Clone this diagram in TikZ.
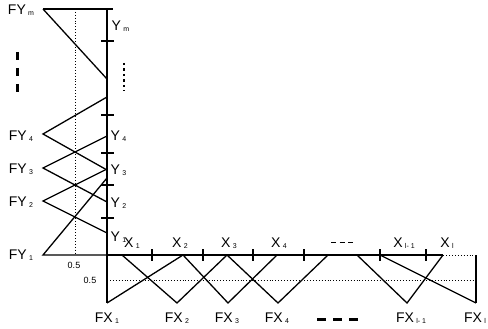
\documentclass[tikz,border=0pt]{standalone}
\usepackage{fontspec}
\setmainfont{Liberation Sans}
\usepackage{tikz}

\newcommand{\ix}[1]{\,\raisebox{-0.2ex}{\fontsize{7}{7}\selectfont #1}}

\begin{document}
\begin{tikzpicture}[
    x=1pt, y=-1pt,
    line width=1.3pt,
    lbl/.style={font=\fontsize{14}{14}\selectfont, inner sep=0pt},
    half/.style={font=\fontsize{9}{9}\selectfont, inner sep=0pt},
    axis/.style={line width=2.5pt},
    tick/.style={line width=1.6pt},
    level/.style={dotted, line width=0.9pt}
]
\useasboundingbox (0,0) rectangle (488,329);

% Axes
\draw[axis] (107,9) -- (107,303);
\draw[axis] (107,255) -- (443,255);
\draw[level] (107,255) -- (476,255);

% Shoulders
\draw (43,9) -- (113,9);
\draw (476,255) -- (476,303);

% Half membership levels
\draw[level] (75,9) -- (75,255);
\draw[level] (110,280) -- (476,280);

% Ticks on the y axis
\foreach \y in {41,115,153,185,218} {
    \draw[tick] (101,\y) -- (114,\y);
}

% Ticks on the x axis
\foreach \x in {152,203,253,304,380,426} {
    \draw[tick] (\x,249) -- (\x,261);
}

% Output sets FY
\draw (107,79) -- (43,9);
\draw (107,97) -- (43,134) -- (107,170);
\draw (107,136) -- (43,168) -- (107,202);
\draw (107,169) -- (43,201) -- (107,233);
\draw (107,255) -- (43,255) -- (107,178);

% Input sets FX
\draw (183,255) -- (107,303);
\draw (122,255) -- (177,303) -- (227,255);
\draw (183,255) -- (228,303) -- (277,255);
\draw (227,255) -- (278,303) -- (328,255);
\draw (357,255) -- (407,303) -- (443,255);
\draw (380,255) -- (476,303);

% Omitted sets
\draw[line width=3pt, dash pattern=on 8pt off 8pt] (17,52) -- (17,96);
\draw[line width=1.4pt, dash pattern=on 2.5pt off 3pt] (124,63) -- (124,91);
\draw[line width=1pt, dash pattern=on 5pt off 3.5pt] (331,242) -- (353,242);
\draw[line width=3pt, dash pattern=on 9pt off 7pt] (317,319) -- (358,319);

% FY labels
\node[lbl] (fym) at (21,10)  {FY\ix{m}};
\node[lbl] (fy4) at (21,136) {FY\ix{4}};
\node[lbl] (fy3) at (21,169) {FY\ix{3}};
\node[lbl] (fy2) at (21,202) {FY\ix{2}};
\node[lbl] (fy1) at (21,255) {FY\ix{1}};

% Y labels
\node[lbl, anchor=west] (ym) at (111,26)  {Y\ix{m}};
\node[lbl, anchor=west] (y4) at (110,136) {Y\ix{4}};
\node[lbl, anchor=west] (y3) at (110,170) {Y\ix{3}};
\node[lbl, anchor=west] (y2) at (110,203) {Y\ix{2}};
\node[lbl, anchor=west] (y1) at (110,237) {Y\ix{1}};

% X labels
\node[lbl] (x1) at (132,243) {X\ix{1}};
\node[lbl] (x2) at (180,243) {X\ix{2}};
\node[lbl] (x3) at (229,243) {X\ix{3}};
\node[lbl] (x4) at (279,243) {X\ix{4}};
\node[lbl] (xk) at (404,243) {X\ix{l- 1}};
\node[lbl] (xl) at (447,243) {X\ix{l}};

% FX labels
\node[lbl] (fx1) at (107,318) {FX\ix{1}};
\node[lbl] (fx2) at (177,318) {FX\ix{2}};
\node[lbl] (fx3) at (227,318) {FX\ix{3}};
\node[lbl] (fx4) at (277,318) {FX\ix{4}};
\node[lbl] (fxk) at (411,318) {FX\ix{l- 1}};
\node[lbl] (fxl) at (475,318) {FX\ix{l}};

% Half level labels
\node[half] (hy) at (74,265) {0.5};
\node[half] (hx) at (90,280) {0.5};
\end{tikzpicture}
\end{document}
